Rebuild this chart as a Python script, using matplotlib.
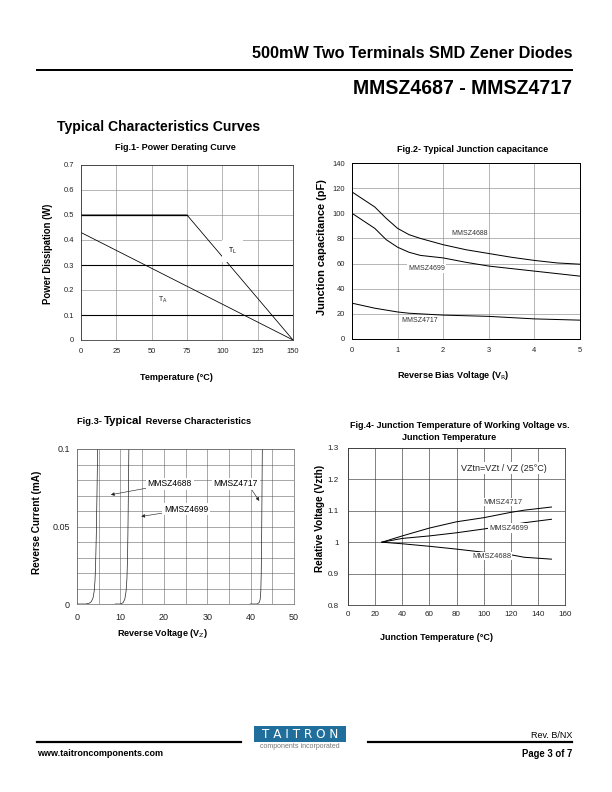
import numpy as np
import matplotlib
matplotlib.use("Agg")
import matplotlib.pyplot as plt
from matplotlib.patches import Rectangle
from matplotlib.lines import Line2D

plt.rcParams['font.family'] = ['Liberation Sans', 'DejaVu Sans']

W, H = 612, 792

# ---- data ----
# Fig.1 power derating
temp_tl = [0, 75, 150]
pd_tl = [0.5, 0.5, 0.0]
temp_ta = [0, 150]
pd_ta = [0.43, 0.0]

# Fig.2 junction capacitance
vr = [0, 0.5, 0.75, 1.0, 1.25, 1.5, 2.0, 2.5, 3.0, 3.5, 4.0, 4.5, 5.0]
cap_4688 = [117, 105, 96, 88, 83, 80, 75, 71, 68, 65, 62.5, 60.5, 59.5]
cap_4699 = [100, 88, 79, 73, 69, 66.5, 64.5, 61, 58, 56, 54, 52, 50]
cap_4717 = [28.5, 24.5, 23, 21.5, 20.5, 20, 19, 18.5, 18, 17, 16, 15.5, 15]

# Fig.3 reverse characteristics
vz_4688 = [0.0, 2.0, 2.8, 3.3, 3.7, 3.95, 4.15, 4.3, 4.45, 4.6, 4.75]
iz_4688 = [0.0, 0.0, 0.0005, 0.0015, 0.004, 0.008, 0.015, 0.027, 0.045, 0.07, 0.1]
vz_4699 = [8.8, 10.0, 10.6, 11.0, 11.3, 11.5, 11.65, 11.75, 11.85, 11.95]
iz_4699 = [0.0, 0.0, 0.0008, 0.003, 0.008, 0.016, 0.03, 0.05, 0.075, 0.1]
vz_4717 = [39.9, 41.5, 42.0, 42.2, 42.35, 42.45, 42.55, 42.62, 42.7]
iz_4717 = [0.0, 0.0, 0.001, 0.003, 0.008, 0.02, 0.045, 0.07, 0.1]

# Fig.4 relative voltage vs junction temperature
tj = [25, 40, 60, 80, 100, 120, 130, 150]
rv_4717 = [1.0, 1.02, 1.045, 1.065, 1.078, 1.095, 1.102, 1.112]
rv_4699 = [1.0, 1.012, 1.02, 1.03, 1.042, 1.055, 1.062, 1.073]
rv_4688 = [1.0, 0.995, 0.987, 0.978, 0.968, 0.96, 0.952, 0.946]


def fx(px):
    return px / W


def fy(py):
    return 1 - py / H


def make_axes(left, top, right, bottom):
    return fig.add_axes([fx(left), fy(bottom), fx(right) - fx(left), (bottom - top) / H])


def style(ax, fc='#333333', lw=0.8, size=7.5, xpad=8, ypad=7):
    for s in ax.spines.values():
        s.set_color(fc)
        s.set_linewidth(lw)
    ax.tick_params(which='both', length=0, labelsize=size, colors='#222222')
    ax.tick_params(axis='x', pad=xpad)
    ax.tick_params(axis='y', pad=ypad)
    ax.set_axisbelow(True)


def label(px, py, s, size, rot=0, **kw):
    fig.text(fx(px), fy(py), s, fontsize=size, fontweight='bold', ha='center', va='center',
             rotation=rot, **kw)


fig = plt.figure(figsize=(W / 72, H / 72), dpi=72)

# ---- page header ----
fig.text(fx(572), fy(53), "500mW Two Terminals SMD Zener Diodes", ha='right', va='center',
         fontsize=16.2, fontweight='bold')
fig.add_artist(Line2D([fx(37), fx(572)], [fy(70), fy(70)], color='black', lw=2))
fig.text(fx(572), fy(88), "MMSZ4687 - MMSZ4717", ha='right', va='center',
         fontsize=19.5, fontweight='bold')
fig.text(fx(57), fy(127), "Typical Characteristics Curves", ha='left', va='center',
         fontsize=14, fontweight='bold')

# ---- Fig.1 ----
ax1 = make_axes(81, 165, 293, 340)
style(ax1, size=7.5, xpad=8, ypad=7)
ax1.set_xlim(0, 150)
ax1.set_ylim(0, 0.7)
ax1.set_xticks(np.arange(0, 151, 25))
ax1.set_yticks(np.arange(0, 0.71, 0.1))
ax1.set_yticklabels(['0', '0.1', '0.2', '0.3', '0.4', '0.5', '0.6', '0.7'])
ax1.grid(True, color='#888888', lw=0.6)
for yv in [0.1, 0.3]:
    ax1.axhline(yv, color='black', lw=1.1, zorder=1.5)
ax1.plot(temp_tl, pd_tl, color='black', lw=0.8)
ax1.plot(temp_ta, pd_ta, color='black', lw=0.8)
ax1.plot([0, 75], [0.5, 0.5], color='black', lw=1.3)
ax1.text(107, 0.355, "T$_{\\rm L}$", fontsize=7, ha='center', va='center',
         bbox=dict(facecolor='white', edgecolor='none', pad=6))
ax1.text(58, 0.16, "T$_{\\rm A}$", fontsize=7, ha='center', va='center', color='#222222')
label(175, 147, "Fig.1- Power Derating Curve", 9)
label(176, 377, "Temperature (\u00b0C)", 9)
label(48, 254, "Power Dissipation (W)", 9.5, rot=90)

# ---- Fig.2 ----
ax2 = make_axes(352, 163, 580, 339)
style(ax2, fc='black', lw=1.0, size=7.5, xpad=8, ypad=7)
ax2.set_xlim(0, 5)
ax2.set_ylim(0, 140)
ax2.set_xticks(range(0, 6))
ax2.set_yticks(range(0, 141, 20))
ax2.grid(True, color='#888888', lw=0.6)
ax2.plot(vr, cap_4688, color='black', lw=1.0)
ax2.plot(vr, cap_4699, color='black', lw=1.0)
ax2.plot(vr, cap_4717, color='black', lw=1.0)
lbl = dict(facecolor='white', edgecolor='none', pad=1)
ax2.text(2.17, 84, "MMSZ4688", fontsize=7, ha='left', va='center', color='#333333', bbox=lbl)
ax2.text(1.23, 56, "MMSZ4699", fontsize=7, ha='left', va='center', color='#333333', bbox=lbl)
ax2.text(1.08, 14.5, "MMSZ4717", fontsize=7, ha='left', va='center', color='#333333', bbox=lbl)
label(473, 149, "Fig.2- Typical Junction capacitance", 9)
label(453, 375, "Reverse Bias Voltage (V$_{\\rm R}$)", 9)
label(322, 247, "Junction capacitance (pF)", 11, rot=90)

# ---- Fig.3 ----
ax3 = make_axes(77, 449, 294, 604)
style(ax3, fc='#666666', lw=0.7, size=9, xpad=9, ypad=7)
ax3.set_xlim(0, 50)
ax3.set_ylim(0, 0.1)
ax3.set_xticks(range(0, 51, 10))
ax3.set_xticks(range(0, 51, 5), minor=True)
ax3.set_yticks([0, 0.05, 0.1])
ax3.set_yticklabels(['0', '0.05', '0.1'])
ax3.set_yticks(np.arange(0, 0.101, 0.01), minor=True)
ax3.grid(True, which='both', color='#555555', lw=0.5)
ax3.plot(vz_4688, iz_4688, color='#222222', lw=0.7)
ax3.plot(vz_4699, iz_4699, color='#222222', lw=0.7)
ax3.plot(vz_4717, iz_4717, color='#222222', lw=0.7)
arrow = dict(arrowstyle='-|>', color='#222222', lw=0.6, mutation_scale=7, shrinkA=0, shrinkB=0)
box = dict(facecolor='white', edgecolor='none', pad=1.5)
ax3.annotate("MMSZ4688", xy=(7.8, 0.0705), xytext=(16.3, 0.0775), fontsize=8.5,
             ha='left', va='center', arrowprops=arrow, bbox=box)
ax3.annotate("MMSZ4699", xy=(14.8, 0.0565), xytext=(20.0, 0.061), fontsize=8.5,
             ha='left', va='center', arrowprops=arrow, bbox=box)
ax3.annotate("MMSZ4717", xy=(42.0, 0.0665), xytext=(31.5, 0.0775), fontsize=8.5,
             ha='left', va='center', bbox=box)
ax3.annotate("", xy=(42.0, 0.0665), xytext=(40.3, 0.0735), arrowprops=arrow)
label(162, 634, "Reverse Voltage (V$_{\\rm Z}$)", 9)
label(37, 522, "Reverse Current (mA)", 10, rot=90)

# Fig.3 title with larger "Typical"
fig.canvas.draw()
rend = fig.canvas.get_renderer()
parts = [("Fig.3- ", 9.2), ("Typical", 11.4), (" Reverse Characteristics", 9.2)]
texts = []
total = 0
for s, size in parts:
    t = fig.text(0, fy(423.5), s, fontsize=size, fontweight='bold', ha='left', va='baseline')
    w = t.get_window_extent(rend).width
    texts.append((t, w))
    total += w
x0 = 164 - total / 2
for t, w in texts:
    t.set_x(fx(x0))
    x0 += w

# ---- Fig.4 ----
ax4 = make_axes(348, 448, 565, 605)
style(ax4, fc='#333333', lw=0.8, size=8, xpad=6, ypad=9)
ax4.set_xlim(0, 160)
ax4.set_ylim(0.8, 1.3)
ax4.set_xticks(range(0, 161, 20))
ax4.set_yticks([0.8, 0.9, 1.0, 1.1, 1.2, 1.3])
ax4.set_yticklabels(['0.8', '0.9', '1', '1.1', '1.2', '1.3'])
ax4.grid(True, color='#333333', lw=0.6)
ax4.plot(tj, rv_4717, color='black', lw=1.0)
ax4.plot(tj, rv_4699, color='black', lw=1.0)
ax4.plot(tj, rv_4688, color='black', lw=1.0)
box4 = dict(facecolor='white', edgecolor='none', pad=1.5)
ax4.text(83, 1.235, "VZtn=VZt / VZ (25\u00b0C)", fontsize=9, ha='left', va='center',
         color='#222222', bbox=box4)
ax4.text(100, 1.128, "MMSZ4717", fontsize=7.5, ha='left', va='center', color='#333333',
         bbox=dict(facecolor='white', edgecolor='none', pad=0.5))
ax4.text(104, 1.045, "MMSZ4699", fontsize=7.5, ha='left', va='center', color='#333333',
         bbox=box4)
ax4.text(92, 0.955, "MMSZ4688", fontsize=7.5, ha='left', va='center', color='#333333',
         bbox=dict(facecolor='white', edgecolor='none', pad=0.5))
label(460, 426, "Fig.4- Junction Temperature of Working Voltage vs.", 9)
label(449, 437, "Junction Temperature", 9)
label(436, 637, "Junction Temperature (\u00b0C)", 9)
label(320, 518, "Relative Voltage (Vzth)", 10, rot=90)

# ---- footer ----
fig.add_artist(Line2D([fx(37), fx(241)], [fy(742), fy(742)], color='black', lw=2.2))
fig.add_artist(Line2D([fx(368), fx(572)], [fy(742), fy(742)], color='black', lw=2.2))
fig.add_artist(Rectangle((fx(254), fy(742)), fx(346) - fx(254), (742 - 726) / H,
                         transform=fig.transFigure, facecolor='#1f6e9c', edgecolor='none'))
fig.text(fx(300), fy(734.5), "T A I T R O N", ha='center', va='center', fontsize=12,
         color='white', family='DejaVu Sans')
fig.text(fx(300), fy(747), "components incorporated", ha='center', va='center', fontsize=7,
         color='#777777')
fig.text(fx(572), fy(735), "Rev. B/NX", ha='right', va='center', fontsize=9)
fig.text(fx(37), fy(753), "www.taitroncomponents.com", ha='left', va='center', fontsize=9,
         fontweight='bold')
fig.text(fx(572), fy(754), "Page 3 of 7", ha='right', va='center', fontsize=9.5,
         fontweight='bold')

fig.savefig("out.png", dpi=72, facecolor='white')
plt.close(fig)
